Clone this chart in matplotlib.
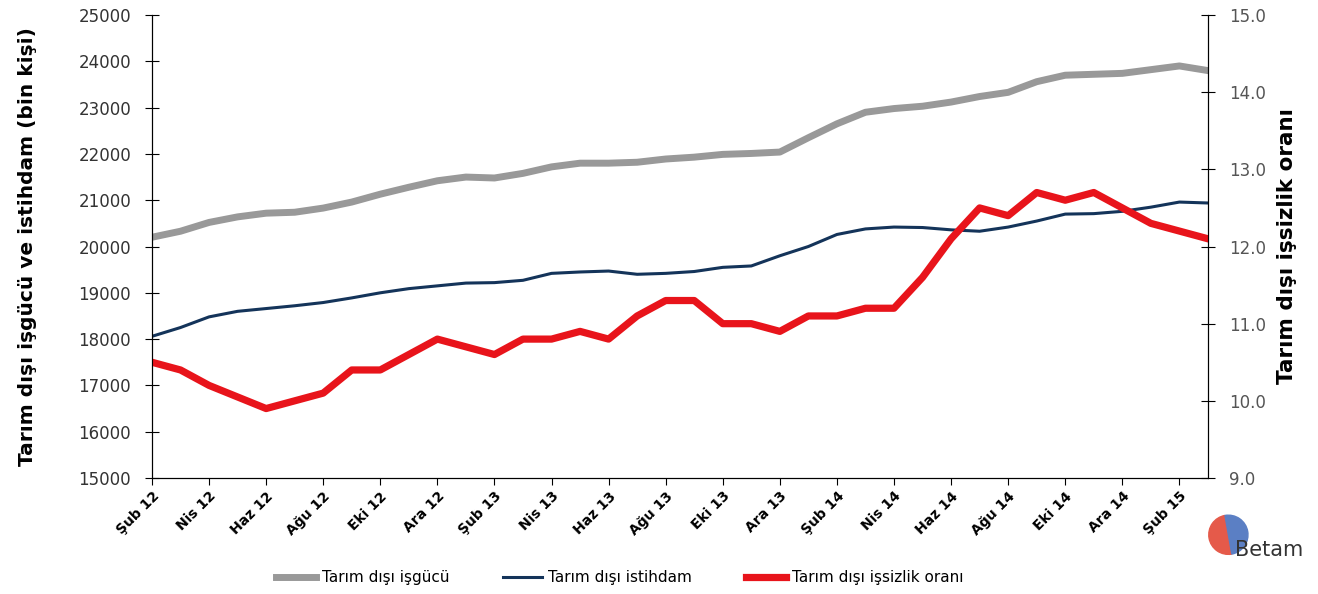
import matplotlib.pyplot as plt
import numpy as np
from matplotlib.patches import Wedge

plt.rcParams['font.family'] = ['DejaVu Sans']

# monthly data, Feb 2012 - Mar 2015
months = ['Şub 12', 'Mar 12', 'Nis 12', 'May 12', 'Haz 12', 'Tem 12', 'Ağu 12', 'Eyl 12',
          'Eki 12', 'Kas 12', 'Ara 12', 'Oca 13', 'Şub 13', 'Mar 13', 'Nis 13', 'May 13',
          'Haz 13', 'Tem 13', 'Ağu 13', 'Eyl 13', 'Eki 13', 'Kas 13', 'Ara 13', 'Oca 14',
          'Şub 14', 'Mar 14', 'Nis 14', 'May 14', 'Haz 14', 'Tem 14', 'Ağu 14', 'Eyl 14',
          'Eki 14', 'Kas 14', 'Ara 14', 'Oca 15', 'Şub 15', 'Mar 15']

isgucu = [20200, 20330, 20520, 20640, 20720, 20740, 20830, 20960, 21130, 21280,
          21420, 21500, 21480, 21580, 21720, 21800, 21800, 21820, 21890, 21930,
          21990, 22010, 22040, 22350, 22650, 22900, 22980, 23030, 23120, 23240,
          23330, 23560, 23700, 23720, 23740, 23820, 23900, 23800]

istihdam = [18060, 18250, 18480, 18600, 18660, 18720, 18790, 18890, 19000, 19090,
            19150, 19210, 19220, 19270, 19420, 19450, 19470, 19400, 19420, 19460,
            19550, 19580, 19800, 20000, 20260, 20380, 20420, 20410, 20360, 20330,
            20420, 20550, 20700, 20710, 20760, 20850, 20960, 20940]

issizlik = [10.5, 10.4, 10.2, 10.05, 9.9, 10.0, 10.1, 10.4, 10.4, 10.6,
            10.8, 10.7, 10.6, 10.8, 10.8, 10.9, 10.8, 11.1, 11.3, 11.3,
            11.0, 11.0, 10.9, 11.1, 11.1, 11.2, 11.2, 11.6, 12.1, 12.5,
            12.4, 12.7, 12.6, 12.7, 12.5, 12.3, 12.2, 12.1]

x = np.arange(len(months))

fig = plt.figure(figsize=(13.18, 5.94), dpi=100)
ax1 = fig.add_axes([0.1153, 0.1953, 0.8012, 0.7794])
ax2 = ax1.twinx()

l1, = ax1.plot(x, isgucu, color='#999999', linewidth=5, label='Tarım dışı işgücü')
l2, = ax1.plot(x, istihdam, color='#14345A', linewidth=2.2, label='Tarım dışı istihdam')
l3, = ax2.plot(x, issizlik, color='#E8141B', linewidth=5.2, label='Tarım dışı işsizlik oranı')

ax1.set_xlim(0, len(months) - 1)
ax1.set_ylim(15000, 25000)
ax1.set_yticks(np.arange(15000, 25001, 1000))
ax2.set_ylim(9.0, 15.0)
ax2.set_yticks(np.arange(9, 15.1, 1))
ax2.set_yticklabels([f'{v:.1f}' for v in np.arange(9, 15.1, 1)])

ax1.set_xticks(x[::2])
ax1.set_xticklabels(months[::2], rotation=45, ha='right', rotation_mode='anchor',
                    fontsize=10, fontweight='bold')
ax1.tick_params(axis='x', direction='out', length=5, pad=3)
ax1.tick_params(axis='y', direction='inout', length=10, labelsize=12, labelcolor='#333333', pad=10)
ax2.tick_params(axis='y', direction='inout', length=10, labelsize=12, labelcolor='#555555', pad=10)

for a in (ax1, ax2):
    a.grid(False)
    a.spines['top'].set_visible(False)

ax1.set_ylabel('Tarım dışı işgücü ve istihdam (bin kişi)', fontsize=14.5, fontweight='bold', labelpad=30)
ax2.set_ylabel('Tarım dışı işsizlik oranı', fontsize=15.5, fontweight='bold', labelpad=8)

fig.legend(handles=[l1, l2, l3], loc='center', bbox_to_anchor=(0.47, 0.027), ncol=3,
           frameon=False, fontsize=11, handlelength=2.6, handletextpad=0.4, columnspacing=3.5)

# Betam logo, roughly
lax = fig.add_axes([0.915, 0.03, 0.085, 0.13])
lax.set_xlim(0, 4)
lax.set_ylim(0, 2)
lax.set_aspect('equal')
lax.axis('off')
lax.add_patch(Wedge((0.8, 1.1), 0.7, 100, 280, color='#E55A4A'))
lax.add_patch(Wedge((0.8, 1.1), 0.7, 280, 100, color='#5B7FC4'))
lax.text(1.05, 0.55, 'Betam', fontsize=15, color='#333333', va='center', ha='left')

fig.savefig('out.png', dpi=100)
